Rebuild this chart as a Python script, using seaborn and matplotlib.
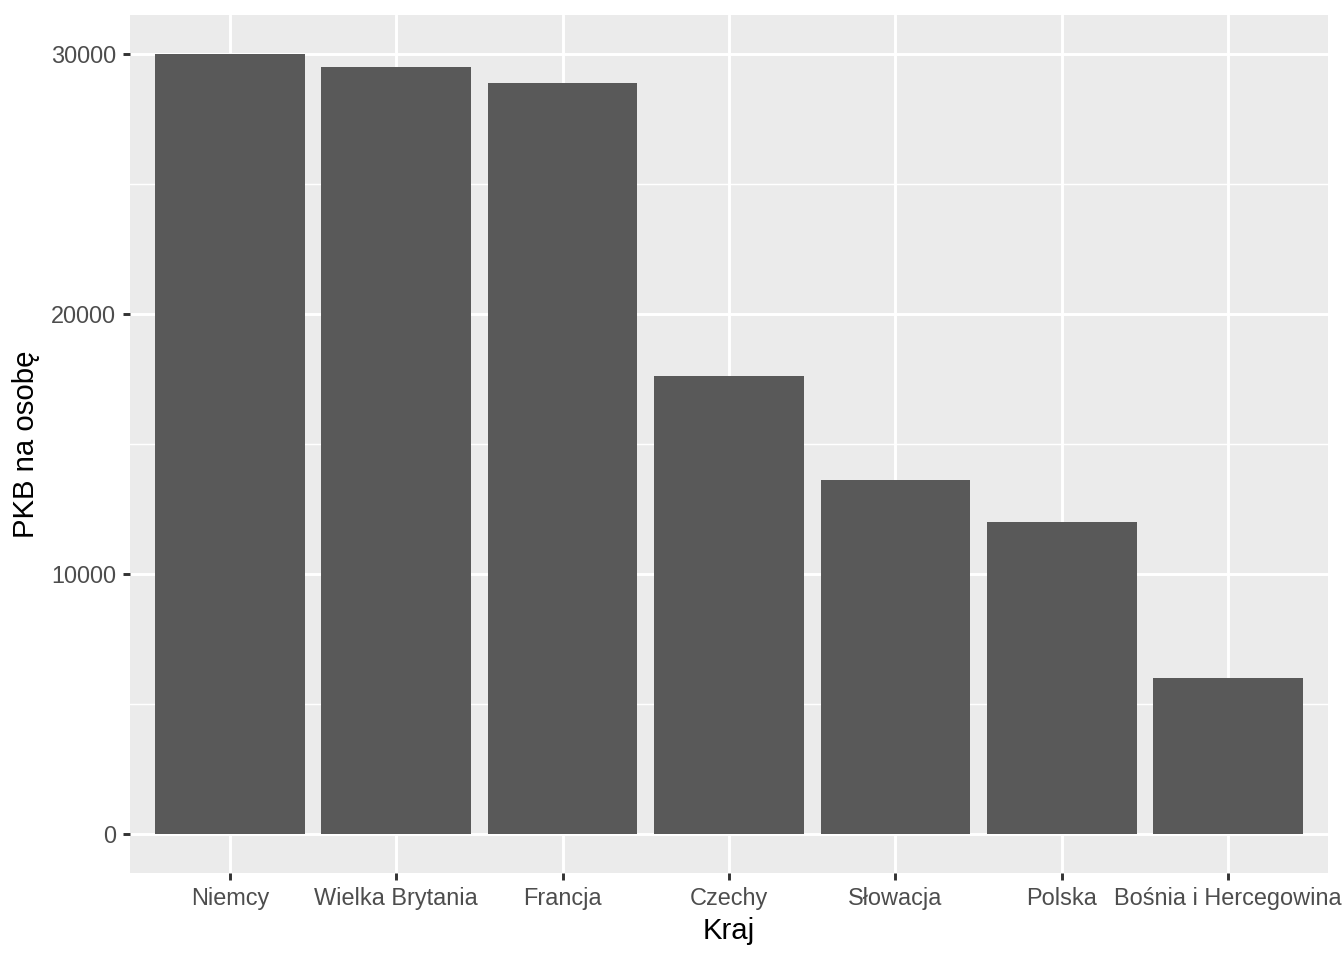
import seaborn as sns
import matplotlib.pyplot as plt
import pandas as pd
from matplotlib.ticker import MultipleLocator

kraje = ['Niemcy', 'Wielka Brytania', 'Francja', 'Czechy', 'Słowacja', 'Polska',
         'Bośnia i Hercegowina']
pkb = [30000, 29500, 28900, 17600, 13600, 12000, 6000]

df = pd.DataFrame({'Kraj': kraje, 'PKB na osobę': pkb})

sns.set_theme(style='darkgrid', rc={
    'axes.facecolor': '#EBEBEB',
    'grid.color': 'white',
    'axes.edgecolor': 'none',
})
plt.rcParams['font.family'] = ['Liberation Sans', 'DejaVu Sans']

fig = plt.figure(figsize=(7, 5), dpi=192)
ax = fig.add_axes([130/1344, 1 - 873/960, (1328-130)/1344, (873-15)/960])

sns.barplot(data=df, x='Kraj', y='PKB na osobę', color='#595959', width=0.9,
            saturation=1, linewidth=0, edgecolor='none', ax=ax, zorder=3)

ax.set_xlim(-0.6, 6.6)
ax.set_ylim(-1500, 31500)
ax.yaxis.set_major_locator(MultipleLocator(10000))
ax.yaxis.set_minor_locator(MultipleLocator(5000))
ax.grid(which='major', color='white', linewidth=1.1, zorder=0)
ax.grid(which='minor', axis='y', color='white', linewidth=0.55, zorder=0)
ax.set_axisbelow(True)

ax.tick_params(axis='both', which='major', length=2.75, width=1.1, color='#333333',
               labelcolor='#4D4D4D', labelsize=8.8, pad=2.4, bottom=True, left=True)
ax.tick_params(axis='y', which='minor', length=0)
ax.set_xlabel('Kraj', fontsize=11, color='black', labelpad=2.6)
ax.set_ylabel('PKB na osobę', fontsize=11, color='black', labelpad=4)

fig.savefig('out.png', dpi=192)
